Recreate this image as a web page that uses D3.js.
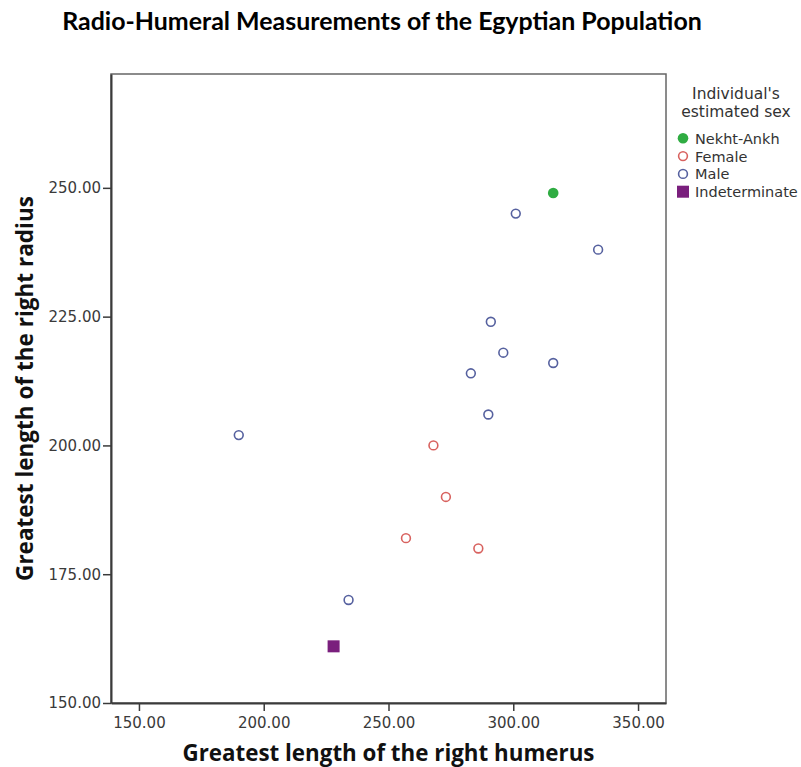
<!DOCTYPE html>
<html>
<head>
<meta charset="utf-8">
<script src="https://cdn.jsdelivr.net/npm/d3@7"></script>
<style>
  body { margin: 0; background: #fff; }
  svg { display: block; }
</style>
</head>
<body>
<svg id="chart"></svg>
<script>
// data
const groups = ["Nekht-Ankh", "Female", "Male", "Indeterminate"];
const nekhtHumerus = [316];
const nekhtRadius = [249];
const femaleHumerus = [268, 273, 257, 286];
const femaleRadius = [200, 190, 182, 180];
const maleHumerus = [301, 334, 291, 296, 283, 316, 290, 190, 234];
const maleRadius = [245, 238, 224, 218, 214, 216, 206, 202, 170];
const indetHumerus = [228];
const indetRadius = [161];
const xTicks = [150, 200, 250, 300, 350];
const yTicks = [150, 175, 200, 225, 250];

const width = 801, height = 767;
const margins = { left: 111, right: 135, top: 74, bottom: 64 };

const colors = {
    "Nekht-Ankh": "#2fac42",
    "Female": "#d8625f",
    "Male": "#56619f",
    "Indeterminate": "#7a1f7d"
};

// build point table from the arrays
const points = [];
const addGroup = (group, xs, ys) => xs.forEach((x, i) => points.push({ group, x, y: ys[i] }));
addGroup("Male", maleHumerus, maleRadius);
addGroup("Female", femaleHumerus, femaleRadius);
addGroup("Indeterminate", indetHumerus, indetRadius);
addGroup("Nekht-Ankh", nekhtHumerus, nekhtRadius);

const x = d3.scaleLinear()
    .domain([138.8, 361.2])
    .range([margins.left, width - margins.right]);

const y = d3.scaleLinear()
    .domain([150, 272.1])
    .range([height - margins.bottom, margins.top]);

const svg = d3.select("#chart")
    .attr("width", width)
    .attr("height", height);

// scale a text's font so it spans the wanted width
const fitWidth = (sel, target) => {
    const w = sel.node().getComputedTextLength();
    const fs = parseFloat(sel.attr("font-size"));
    if (w > 0) sel.attr("font-size", (fs * target / w).toFixed(2));
};

// title
const title = svg.append("text")
    .attr("x", 382)
    .attr("y", 30)
    .attr("text-anchor", "middle")
    .attr("font-family", "Lato, 'Open Sans', sans-serif")
    .attr("font-weight", "bold")
    .attr("font-size", 22)
    .attr("fill", "#000")
    .text("Radio-Humeral Measurements of the Egyptian Population");
fitWidth(title, 640);

// frame
svg.append("rect")
    .attr("x", margins.left)
    .attr("y", margins.top)
    .attr("width", width - margins.right - margins.left)
    .attr("height", height - margins.bottom - margins.top)
    .attr("fill", "none")
    .attr("stroke", "#666")
    .attr("stroke-width", 1.5);

// axes
const fmt = d3.format(".2f");
const xAxis = svg.append("g")
    .attr("transform", `translate(0, ${height - margins.bottom})`)
    .call(d3.axisBottom(x).tickValues(xTicks).tickFormat(fmt).tickSize(8).tickSizeOuter(0).tickPadding(6));
const yAxis = svg.append("g")
    .attr("transform", `translate(${margins.left}, 0)`)
    .call(d3.axisLeft(y).tickValues(yTicks).tickFormat(fmt).tickSize(8).tickSizeOuter(0).tickPadding(2));

[xAxis, yAxis].forEach(g => {
    g.select(".domain").attr("stroke", "#3a3a3a").attr("stroke-width", 2);
    g.selectAll(".tick line").attr("stroke", "#3a3a3a").attr("stroke-width", 1.5);
    g.selectAll(".tick text")
        .attr("font-family", "'DejaVu Sans', sans-serif")
        .attr("font-size", 15)
        .attr("fill", "#3a3a3a");
});

// axis titles
const xTitle = svg.append("text")
    .attr("x", (margins.left + width - margins.right) / 2)
    .attr("y", 761)
    .attr("text-anchor", "middle")
    .attr("font-family", "'Open Sans', sans-serif")
    .attr("font-weight", "bold")
    .attr("font-size", 20)
    .attr("fill", "#111")
    .text("Greatest length of the right humerus");
fitWidth(xTitle, 412);

const yTitle = svg.append("text")
    .attr("transform", `translate(33, ${(margins.top + height - margins.bottom) / 2})rotate(-90)`)
    .attr("text-anchor", "middle")
    .attr("font-family", "'Open Sans', sans-serif")
    .attr("font-weight", "bold")
    .attr("font-size", 20)
    .attr("fill", "#111")
    .text("Greatest length of the right radius");
fitWidth(yTitle, 385);

// marker drawing
const drawMarker = (g, group, cx, cy) => {
    if (group === "Indeterminate") {
        const s = 12;
        g.append("rect")
            .attr("x", cx - s / 2)
            .attr("y", cy - s / 2)
            .attr("width", s)
            .attr("height", s)
            .attr("fill", colors[group]);
    } else if (group === "Nekht-Ankh") {
        g.append("circle")
            .attr("cx", cx)
            .attr("cy", cy)
            .attr("r", 5.3)
            .attr("fill", colors[group]);
    } else {
        g.append("circle")
            .attr("cx", cx)
            .attr("cy", cy)
            .attr("r", 4.4)
            .attr("fill", "none")
            .attr("stroke", colors[group])
            .attr("stroke-width", 1.6);
    }
};

const pointsG = svg.append("g");
points.forEach(d => drawMarker(pointsG, d.group, x(d.x), y(d.y)));

// legend
const legend = svg.append("g").attr("font-family", "'DejaVu Sans', sans-serif").attr("fill", "#333");
legend.append("text")
    .attr("x", 736).attr("y", 98.5)
    .attr("text-anchor", "middle")
    .attr("font-size", 15.5)
    .text("Individual's");
legend.append("text")
    .attr("x", 736).attr("y", 117)
    .attr("text-anchor", "middle")
    .attr("font-size", 15.5)
    .text("estimated sex");

groups.forEach((grp, i) => {
    const cy = 138.3 + i * 17.8;
    drawMarker(legend, grp, 683, cy);
    legend.append("text")
        .attr("x", 695)
        .attr("y", cy + 5.5)
        .attr("font-size", 14.5)
        .text(grp);
});
</script>
</body>
</html>
